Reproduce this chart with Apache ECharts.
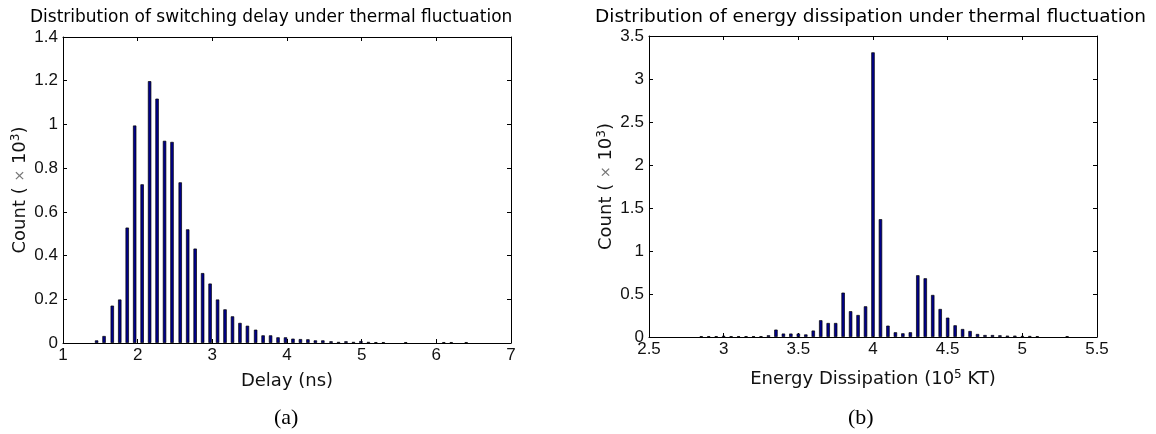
<!DOCTYPE html>
<html>
<head>
<meta charset="utf-8">
<title>Switching delay and energy dissipation histograms</title>
<script src="https://cdn.jsdelivr.net/npm/echarts@6/dist/echarts.min.js"></script>
<style>
  html, body { margin: 0; padding: 0; background: #fff; }
  #chart { width: 1156px; height: 434px; }
</style>
</head>
<body>
<div id="chart"></div>
<script>
// (a) switching delay histogram: bin centres (ns) and counts (x 10^3)
const delayCenters = [1.45, 1.55, 1.66, 1.76, 1.86, 1.96, 2.06, 2.16, 2.26, 2.36,
                      2.46, 2.57, 2.67, 2.77, 2.87, 2.97, 3.07, 3.17, 3.27, 3.37,
                      3.47, 3.58, 3.68, 3.78, 3.88, 3.98, 4.08, 4.18, 4.28, 4.38,
                      4.48, 4.59, 4.69, 4.79, 4.89, 4.99, 5.09, 5.19, 5.29, 5.59,
                      6.10, 6.20, 6.40];
const delayCounts  = [0.012, 0.032, 0.171, 0.199, 0.528, 0.995, 0.726, 1.198, 1.118, 0.925,
                      0.920, 0.735, 0.520, 0.432, 0.320, 0.272, 0.199, 0.154, 0.122, 0.092,
                      0.079, 0.061, 0.035, 0.035, 0.026, 0.026, 0.020, 0.018, 0.017, 0.012,
                      0.012, 0.008, 0.005, 0.008, 0.005, 0.009, 0.005, 0.004, 0.004, 0.004,
                      0.004, 0.004, 0.004];

// (b) energy dissipation histogram: bin centres (10^5 KT) and counts (x 10^3)
const energyCenters = [2.85, 2.90, 2.95, 3.00, 3.05, 3.10, 3.15, 3.20, 3.25, 3.30,
                       3.35, 3.40, 3.45, 3.50, 3.55, 3.60, 3.65, 3.70, 3.75, 3.80,
                       3.85, 3.90, 3.95, 4.00, 4.05, 4.10, 4.15, 4.20, 4.25, 4.30,
                       4.35, 4.40, 4.45, 4.50, 4.55, 4.60, 4.65, 4.70, 4.75, 4.80,
                       4.85, 4.90, 4.95, 5.00, 5.05, 5.10, 5.30];
const energyCounts  = [0.010, 0.010, 0.010, 0.014, 0.010, 0.010, 0.010, 0.010, 0.010, 0.020,
                       0.086, 0.040, 0.040, 0.040, 0.030, 0.075, 0.195, 0.163, 0.163, 0.516,
                       0.300, 0.256, 0.357, 3.310, 1.370, 0.132, 0.055, 0.043, 0.055, 0.718,
                       0.683, 0.489, 0.326, 0.225, 0.136, 0.093, 0.070, 0.035, 0.023, 0.023,
                       0.020, 0.016, 0.016, 0.012, 0.012, 0.010, 0.010];

// axis ranges
const delayRange  = { min: 1, max: 7, step: 1 };
const countRangeA = { min: 0, max: 1.4, step: 0.2 };
const energyRange = { min: 2.5, max: 5.5, step: 0.5 };
const countRangeB = { min: 0, max: 3.5, step: 0.5 };

const titleA = 'Distribution of switching delay under thermal fluctuation';
const titleB = 'Distribution of energy dissipation under thermal fluctuation';

const pairs = (xs, ys) => xs.map((x, i) => [x, ys[i]]);

const tickFont = { fontFamily: 'Liberation Sans', fontSize: 17, color: '#111' };
const nameFont = { fontFamily: 'DejaVu Sans', fontSize: 18, color: '#111' };
const rich = {
  sup: { fontFamily: 'DejaVu Sans', fontSize: 12, verticalAlign: 'top', color: '#111', padding: [0, 0, 9, 0] },
  x:   { fontFamily: 'DejaVu Sans', fontSize: 14, color: '#777' }
};
const axisLine = { show: true, onZero: false, lineStyle: { color: '#000', width: 1 } };
const tickIn = { show: true, inside: true, length: 4, lineStyle: { color: '#000', width: 1 } };

function xPair(grid, r, name, nameGap) {
  return [
    { gridIndex: grid, type: 'value', position: 'bottom', min: r.min, max: r.max, interval: r.step,
      axisLine, axisTick: tickIn, splitLine: { show: false },
      axisLabel: Object.assign({ margin: 4 }, tickFont),
      name, nameLocation: 'middle', nameGap,
      nameTextStyle: Object.assign({ rich }, nameFont) },
    { gridIndex: grid, type: 'value', position: 'top', min: r.min, max: r.max, interval: r.step,
      axisLine, axisTick: tickIn, splitLine: { show: false }, axisLabel: { show: false } }
  ];
}
function yPair(grid, r, name, nameGap) {
  return [
    { gridIndex: grid, type: 'value', position: 'left', min: r.min, max: r.max, interval: r.step,
      axisLine, axisTick: tickIn, splitLine: { show: false },
      axisLabel: Object.assign({ margin: 5 }, tickFont),
      name, nameLocation: 'middle', nameGap, nameRotate: 90,
      nameTextStyle: Object.assign({ rich }, nameFont) },
    { gridIndex: grid, type: 'value', position: 'right', min: r.min, max: r.max, interval: r.step,
      axisLine, axisTick: tickIn, splitLine: { show: false }, axisLabel: { show: false } }
  ];
}

const barStyle = { color: '#00008b', borderColor: '#000', borderWidth: 0.7 };
const titleStyle = { fontFamily: 'DejaVu Sans', fontSize: 17, fontWeight: 'normal', color: '#000' };

const chart = echarts.init(document.getElementById('chart'), null, { renderer: 'canvas' });
chart.setOption({
  backgroundColor: '#fff',
  animation: false,
  title: [
    { text: titleA, left: 25, top: 4, textStyle: titleStyle },
    { text: titleB, left: 590, top: 3, textStyle: Object.assign({}, titleStyle, { fontSize: 18.5 }) }
  ],
  grid: [
    { left: 63, top: 37, width: 448, height: 306 },
    { left: 649, top: 36, width: 448, height: 301 }
  ],
  xAxis: [].concat(
    xPair(0, delayRange, 'Delay (ns)', 29),
    xPair(1, energyRange, 'Energy Dissipation (10{sup|5} KT)', 32)
  ),
  yAxis: [].concat(
    yPair(0, countRangeA, 'Count ( {x|×} 10{sup|3})', 32),
    yPair(1, countRangeB, 'Count ( {x|×} 10{sup|3})', 32)
  ),
  series: [
    { type: 'bar', xAxisIndex: 0, yAxisIndex: 0, barWidth: 3.4, itemStyle: barStyle,
      data: pairs(delayCenters, delayCounts) },
    { type: 'bar', xAxisIndex: 2, yAxisIndex: 2, barWidth: 3.4, itemStyle: barStyle,
      data: pairs(energyCenters, energyCounts) }
  ],
  graphic: [
    { type: 'text', left: 287 - 13, top: 407,
      style: { text: '(a)', font: '22px "Liberation Serif"', fill: '#000' } },
    { type: 'text', left: 861 - 13, top: 407,
      style: { text: '(b)', font: '22px "Liberation Serif"', fill: '#000' } }
  ]
});
</script>
</body>
</html>
